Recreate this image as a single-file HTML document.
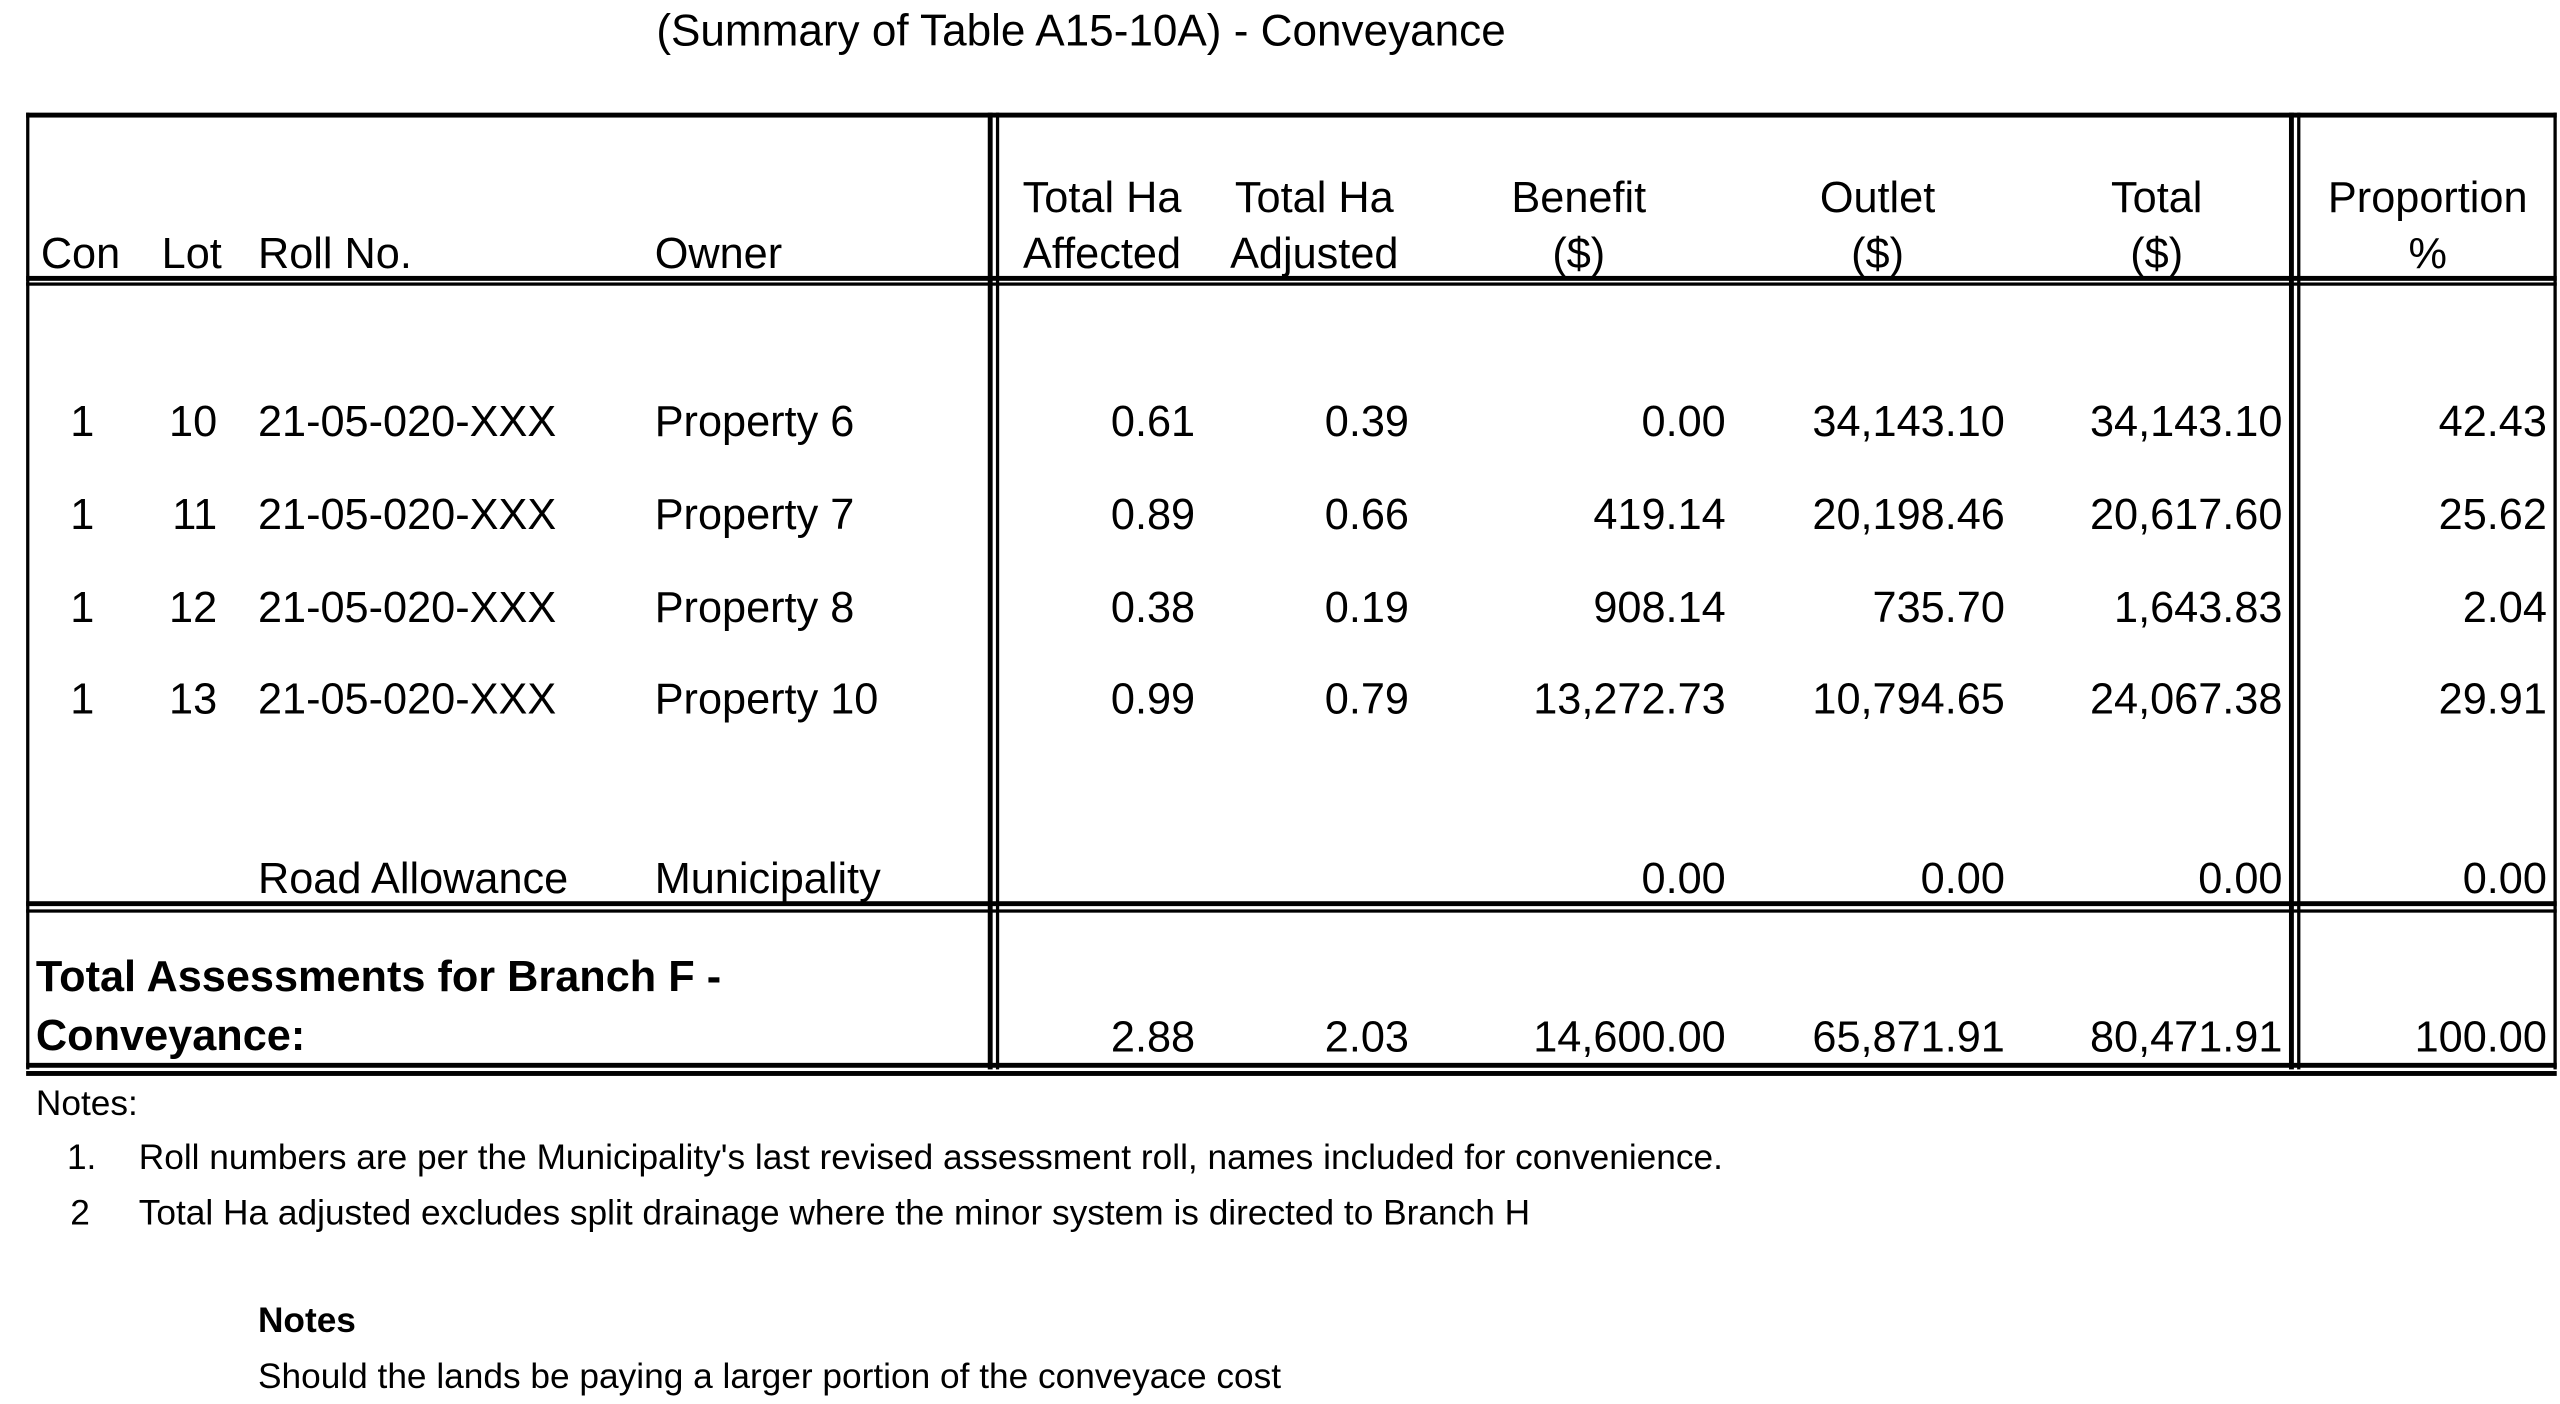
<!DOCTYPE html>
<html><head><meta charset="utf-8"><style>
html,body{margin:0;padding:0;background:#fff;overflow:hidden}
#w{position:absolute;left:0;top:0;width:1568px;height:860px;transform:scale(1.63265);transform-origin:0 0;font-family:"Liberation Sans",Arial,sans-serif;color:#000}
.t{position:absolute;font-size:26.5px;line-height:24px;white-space:nowrap}
.r{text-align:right}
.c{text-align:center}
.n{position:absolute;font-size:21.6px;line-height:20px;white-space:nowrap}
.h{position:absolute;background:#000;height:2px}
.v{position:absolute;background:#000;width:2px}
</style></head><body><div id="w">
<div class="t" style="left:402px;top:7px;font-size:27px">(Summary of Table A15-10A) - Conveyance</div>

<div class="h" style="left:16px;top:69px;width:1550px;height:3px"></div>
<div class="h" style="left:16px;top:169px;width:1550px;height:3px"></div>
<div class="h" style="left:16px;top:173px;width:1550px"></div>
<div class="h" style="left:16px;top:552px;width:1550px;height:3px"></div>
<div class="h" style="left:16px;top:557px;width:1550px"></div>
<div class="h" style="left:16px;top:651px;width:1550px;height:3px"></div>
<div class="h" style="left:16px;top:656px;width:1550px;height:3px"></div>
<div class="v" style="left:16px;top:69px;height:586px"></div>
<div class="v" style="left:605px;top:69px;height:586px;width:3px"></div>
<div class="v" style="left:610px;top:69px;height:586px"></div>
<div class="v" style="left:1402px;top:69px;height:586px;width:3px"></div>
<div class="v" style="left:1407px;top:69px;height:586px"></div>
<div class="v" style="left:1564px;top:69px;height:586px"></div>

<div class="t" style="left:25px;top:143px">Con</div>
<div class="t" style="left:99px;top:143px">Lot</div>
<div class="t" style="left:158px;top:143px">Roll No.</div>
<div class="t" style="left:401px;top:143px">Owner</div>
<div class="t c" style="left:605px;width:140px;top:104px;line-height:34px">Total Ha<br>Affected</div>
<div class="t c" style="left:735px;width:140px;top:104px;line-height:34px">Total Ha<br>Adjusted</div>
<div class="t c" style="left:907px;width:120px;top:104px;line-height:34px">Benefit<br>($)</div>
<div class="t c" style="left:1090px;width:120px;top:104px;line-height:34px">Outlet<br>($)</div>
<div class="t c" style="left:1261px;width:120px;top:104px;line-height:34px">Total<br>($)</div>
<div class="t c" style="left:1417px;width:140px;top:104px;line-height:34px">Proportion<br>%</div>

<div class="t" style="left:43px;top:246px">1</div><div class="t r" style="left:83px;width:50px;top:246px">10</div>
<div class="t" style="left:158px;top:246px">21-05-020-XXX</div><div class="t" style="left:401px;top:246px">Property 6</div>
<div class="t r" style="left:632px;width:100px;top:246px">0.61</div><div class="t r" style="left:763px;width:100px;top:246px">0.39</div>
<div class="t r" style="left:897px;width:160px;top:246px">0.00</div><div class="t r" style="left:1068px;width:160px;top:246px">34,143.10</div>
<div class="t r" style="left:1238px;width:160px;top:246px">34,143.10</div><div class="t r" style="left:1420px;width:140px;top:246px">42.43</div>

<div class="t" style="left:43px;top:303px">1</div><div class="t r" style="left:83px;width:50px;top:303px">11</div>
<div class="t" style="left:158px;top:303px">21-05-020-XXX</div><div class="t" style="left:401px;top:303px">Property 7</div>
<div class="t r" style="left:632px;width:100px;top:303px">0.89</div><div class="t r" style="left:763px;width:100px;top:303px">0.66</div>
<div class="t r" style="left:897px;width:160px;top:303px">419.14</div><div class="t r" style="left:1068px;width:160px;top:303px">20,198.46</div>
<div class="t r" style="left:1238px;width:160px;top:303px">20,617.60</div><div class="t r" style="left:1420px;width:140px;top:303px">25.62</div>

<div class="t" style="left:43px;top:360px">1</div><div class="t r" style="left:83px;width:50px;top:360px">12</div>
<div class="t" style="left:158px;top:360px">21-05-020-XXX</div><div class="t" style="left:401px;top:360px">Property 8</div>
<div class="t r" style="left:632px;width:100px;top:360px">0.38</div><div class="t r" style="left:763px;width:100px;top:360px">0.19</div>
<div class="t r" style="left:897px;width:160px;top:360px">908.14</div><div class="t r" style="left:1068px;width:160px;top:360px">735.70</div>
<div class="t r" style="left:1238px;width:160px;top:360px">1,643.83</div><div class="t r" style="left:1420px;width:140px;top:360px">2.04</div>

<div class="t" style="left:43px;top:416px">1</div><div class="t r" style="left:83px;width:50px;top:416px">13</div>
<div class="t" style="left:158px;top:416px">21-05-020-XXX</div><div class="t" style="left:401px;top:416px">Property 10</div>
<div class="t r" style="left:632px;width:100px;top:416px">0.99</div><div class="t r" style="left:763px;width:100px;top:416px">0.79</div>
<div class="t r" style="left:897px;width:160px;top:416px">13,272.73</div><div class="t r" style="left:1068px;width:160px;top:416px">10,794.65</div>
<div class="t r" style="left:1238px;width:160px;top:416px">24,067.38</div><div class="t r" style="left:1420px;width:140px;top:416px">29.91</div>

<div class="t" style="left:158px;top:526px">Road Allowance</div><div class="t" style="left:401px;top:526px">Municipality</div>
<div class="t r" style="left:897px;width:160px;top:526px">0.00</div><div class="t r" style="left:1068px;width:160px;top:526px">0.00</div>
<div class="t r" style="left:1238px;width:160px;top:526px">0.00</div><div class="t r" style="left:1420px;width:140px;top:526px">0.00</div>

<div class="t" style="left:22px;top:580px;font-weight:bold;line-height:36px;font-size:26.5px">Total Assessments for Branch F -<br>Conveyance:</div>
<div class="t r" style="left:632px;width:100px;top:623px">2.88</div><div class="t r" style="left:763px;width:100px;top:623px">2.03</div>
<div class="t r" style="left:897px;width:160px;top:623px">14,600.00</div><div class="t r" style="left:1068px;width:160px;top:623px">65,871.91</div>
<div class="t r" style="left:1238px;width:160px;top:623px">80,471.91</div><div class="t r" style="left:1420px;width:140px;top:623px">100.00</div>

<div class="n" style="left:22px;top:666px">Notes:</div>
<div class="n" style="left:41px;top:699px">1.</div>
<div class="n" style="left:85px;top:699px">Roll numbers are per the Municipality's last revised assessment roll, names included for convenience.</div>
<div class="n" style="left:43px;top:733px">2</div>
<div class="n" style="left:85px;top:733px">Total Ha adjusted excludes split drainage where the minor system is directed to Branch H</div>
<div class="n" style="left:158px;top:799px;font-weight:bold">Notes</div>
<div class="n" style="left:158px;top:833px">Should the lands be paying a larger portion of the conveyace cost</div>
</div></body></html>
